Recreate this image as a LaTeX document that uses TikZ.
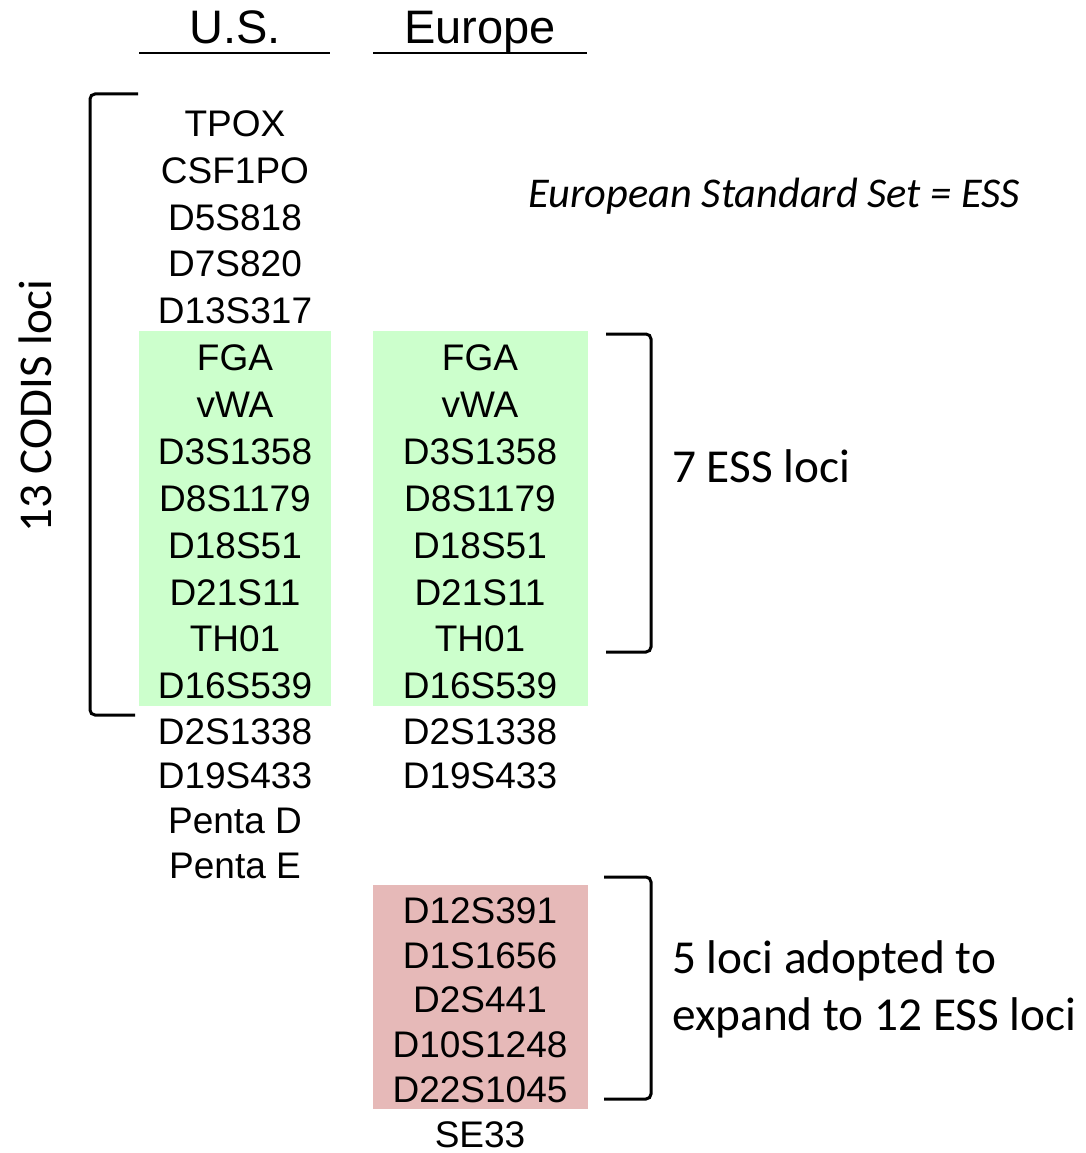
\documentclass[tikz,border=0pt]{standalone}
\usepackage{fontspec}
\newfontfamily\locusfont{Liberation Sans}
\newfontfamily\notefont{Carlito}
\definecolor{essgreen}{HTML}{CCFFCC}
\definecolor{newpink}{HTML}{E6B9B8}
\tikzset{
  locus/.style={font=\locusfont\fontsize{37}{44}\selectfont, anchor=base, inner sep=0pt},
  header/.style={font=\locusfont\fontsize{47}{56}\selectfont, anchor=base, inner sep=0pt},
  note/.style={font=\notefont\fontsize{47.3}{57}\selectfont, anchor=base west, inner sep=0pt},
  bracket/.style={line width=3pt, rounded corners=5pt},
  rule/.style={line width=1.5pt},
}
\begin{document}
\begin{tikzpicture}[x=1pt,y=-1pt]
\useasboundingbox (0,0) rectangle (1086,1153);

% shaded groups
\fill[essgreen] (139,331) rectangle (331,706);
\fill[essgreen] (373,331) rectangle (588,706);
\fill[newpink] (373,885) rectangle (588,1109);

% column headers
\node[header] (hus) at (235,44) {U.S.};
\node[header] (heu) at (480,44) {Europe};
\draw[rule] (139,53) -- (330,53);
\draw[rule] (373,53) -- (587,53);

% U.S. loci
\foreach \t/\y [count=\i] in {TPOX/123, CSF1PO/170, D5S818/217, D7S820/263,
    D13S317/310, FGA/357, vWA/404, D3S1358/451, D8S1179/498, D18S51/545,
    D21S11/592, TH01/638, D16S539/685, D2S1338/731, D19S433/775,
    Penta D/820, Penta E/865}
  \node[locus] (us\i) at (235,\y+13.3) {\t};

% European loci
\foreach \t/\y [count=\i] in {FGA/357, vWA/404, D3S1358/451, D8S1179/498,
    D18S51/545, D21S11/592, TH01/638, D16S539/685, D2S1338/731, D19S433/775,
    D12S391/910, D1S1656/955, D2S441/999, D10S1248/1044, D22S1045/1089,
    SE33/1134}
  \node[locus] (eu\i) at (480,\y+13.3) {\t};

% brackets
\draw[bracket] (138,94) -- (90,94) -- (90,715) -- (135,715);
\draw[bracket] (606,334) -- (651,334) -- (651,652) -- (606,652);
\draw[bracket] (604,877) -- (651,877) -- (651,1099) -- (604,1099);

% annotations
\node[font=\notefont\fontsize{47}{57}\selectfont, rotate=90, inner sep=0pt] (codis) at (35,406) {13 CODIS loci};
\node[font=\notefont\itshape\fontsize{42.4}{50}\selectfont, anchor=base west, inner sep=0pt] (essdef) at (528,207) {European Standard Set = ESS};
\node[note] (ess7) at (672,482) {7 ESS loci};
\node[note] (add5a) at (672,973) {5 loci adopted to};
\node[note] (add5b) at (672,1030) {expand to 12 ESS loci};
\end{tikzpicture}
\end{document}
